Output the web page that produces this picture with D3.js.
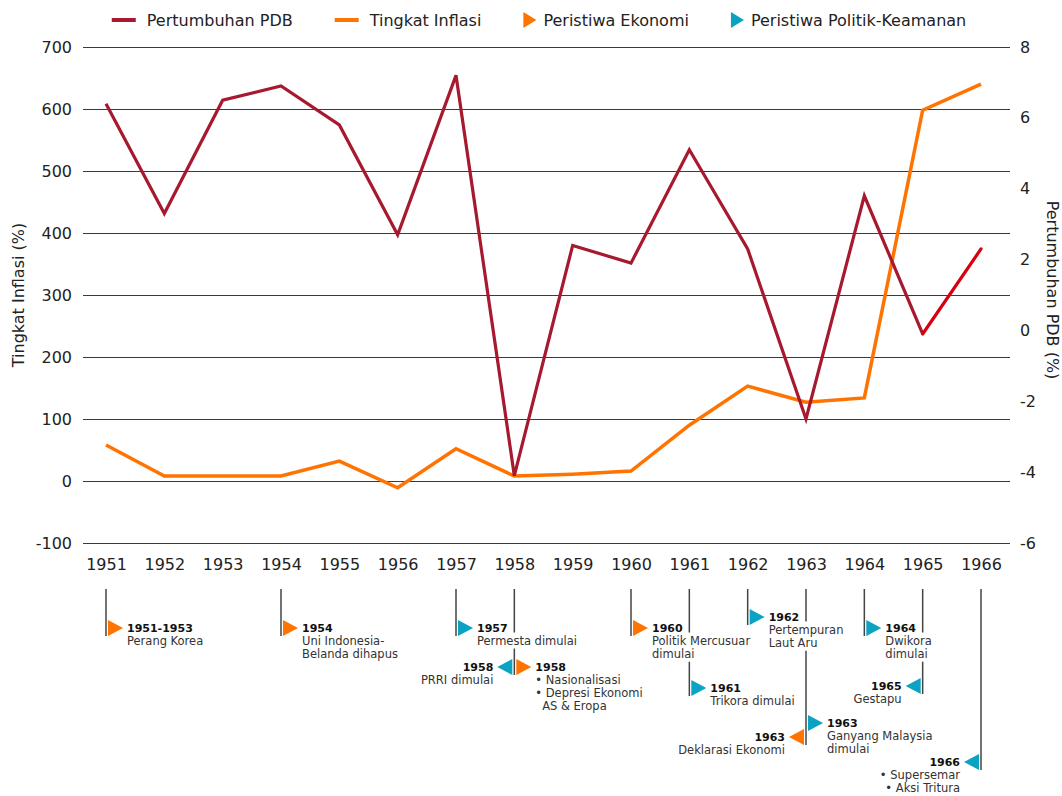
<!DOCTYPE html>
<html><head><meta charset="utf-8">
<script src="https://cdn.jsdelivr.net/npm/d3@7"></script>
<style>
body{margin:0;background:#fff}
text{font-family:'DejaVu Sans',sans-serif}
</style>
</head><body>
<svg id="c" width="1062" height="796"></svg>
<script>
// ---------------- DATA ----------------
const years = [1951,1952,1953,1954,1955,1956,1957,1958,1959,1960,1961,1962,1963,1964,1965,1966];
const gdpGrowth = [6.4,3.3,6.5,6.9,5.8,2.7,7.2,-4.1,2.4,1.9,5.1,2.3,-2.5,3.8,-0.1,2.3];
const inflation = [58,8,8,8,32,-11,52,8,11,16,90,153,127,134,598,640];
const leftTicks = [-100,0,100,200,300,400,500,600,700];
const rightTicks = [-6,-4,-2,0,2,4,6,8];
const legendLabels = ["Pertumbuhan PDB","Tingkat Inflasi","Peristiwa Ekonomi","Peristiwa Politik-Keamanan"];
const leftTitle = "Tingkat Inflasi (%)";
const rightTitle = "Pertumbuhan PDB (%)";

const eventYears  = [1951,1954,1957,1958,1958,1960,1961,1962,1963,1963,1964,1965,1966];
const eventKinds  = ["eko","eko","pol","pol","eko","eko","pol","pol","pol","eko","pol","pol","pol"];
const eventTitles = ["1951-1953","1954","1957","1958","1958","1960","1961","1962","1963","1963","1964","1965","1966"];
const eventTexts  = [
  ["Perang Korea"],
  ["Uni Indonesia-","Belanda dihapus"],
  ["Permesta dimulai"],
  ["PRRI dimulai"],
  ["• Nasionalisasi","• Depresi Ekonomi","\tAS & Eropa"],
  ["Politik Mercusuar","dimulai"],
  ["Trikora dimulai"],
  ["Pertempuran","Laut Aru"],
  ["Ganyang Malaysia","dimulai"],
  ["Deklarasi Ekonomi"],
  ["Dwikora","dimulai"],
  ["Gestapu"],
  ["• Supersemar","• Aksi Tritura"]
];

// ---------------- LAYOUT / STYLE ----------------
const W = 1062, H = 796;
const C = {gdp:"#a6192e", gdpLast:"#d8000f", inf:"#ff7300", eko:"#ff7300", pol:"#0ba3c1", grid:"#3a3a3a", text:"#222"};
const eventDir = ["r","r","r","l","r","r","r","r","r","l","r","l","l"];
const eventY   = [628,628,628,667,667,628,688,617,723,737,628,686,762];
const lineTop = 589, lineH = 13.2, firstOff = 12.5;
const FONT = "'DejaVu Sans',sans-serif";

const svg = d3.select("#c");
const x = d3.scalePoint().domain(years).range([106,981]);
const yL = d3.scaleLinear().domain([-100,700]).range([543,47]);
const yR = d3.scaleLinear().domain([-6,8]).range([543,47]);
const gx0 = 83, gx1 = 1010;

// gridlines
svg.append("g").selectAll("line").data(leftTicks).join("line")
  .attr("x1",gx0).attr("x2",gx1)
  .attr("y1",d=>Math.round(yL(d))+0.5).attr("y2",d=>Math.round(yL(d))+0.5)
  .attr("stroke",C.grid).attr("stroke-width",1);

// left axis
const axL = svg.append("g").attr("transform",`translate(${gx0},0)`)
  .call(d3.axisLeft(yL).tickValues(leftTicks).tickSize(0).tickPadding(11).tickFormat(d=>String(d)));
axL.select(".domain").remove();
axL.selectAll("text").attr("font-size",16).attr("fill",C.text).style("font-family",FONT);

// right axis
const axR = svg.append("g").attr("transform",`translate(${gx1},0)`)
  .call(d3.axisRight(yR).tickValues(rightTicks).tickSize(0).tickPadding(10).tickFormat(d=>String(d)));
axR.select(".domain").remove();
axR.selectAll("text").attr("font-size",16).attr("fill",C.text).style("font-family",FONT);

// bottom axis
const axB = svg.append("g").attr("transform",`translate(0,555)`)
  .call(d3.axisBottom(x).tickSize(0).tickPadding(4).tickFormat(d=>String(d)));
axB.select(".domain").remove();
axB.selectAll("text").attr("font-size",16).attr("fill",C.text).style("font-family",FONT);

// axis titles
svg.append("text").attr("transform",`translate(24,${295}) rotate(-90)`)
  .attr("text-anchor","middle").attr("font-size",16).attr("fill",C.text).text(leftTitle);
svg.append("text").attr("transform",`translate(1047,${290}) rotate(90)`)
  .attr("text-anchor","middle").attr("font-size",16).attr("fill",C.text).text(rightTitle);

// lines
const infLine = d3.line().x((d,i)=>x(years[i])).y(d=>yL(d));
const gdpLine = d3.line().x(d=>x(d[0])).y(d=>yR(d[1]));
const gdpPts = years.map((yr,i)=>[yr,gdpGrowth[i]]);
svg.append("path").attr("d",infLine(inflation)).attr("fill","none")
  .attr("stroke",C.inf).attr("stroke-width",3.5).attr("stroke-linejoin","miter");
svg.append("path").attr("d",gdpLine(gdpPts.slice(0,-1))).attr("fill","none")
  .attr("stroke",C.gdp).attr("stroke-width",3.2).attr("stroke-linejoin","miter");
svg.append("path").attr("d",gdpLine(gdpPts.slice(-2))).attr("fill","none")
  .attr("stroke",C.gdpLast).attr("stroke-width",3.2).attr("stroke-linecap","round");

// legend
const lg = svg.append("g");
let lx = 0;
const legendKinds = ["line","line","tri","tri"];
const legendColors = [C.gdp,C.inf,C.eko,C.pol];
const lgGap = 42;
legendLabels.forEach((lab,i)=>{
  const g = lg.append("g").attr("transform",`translate(${lx},0)`);
  let tx;
  if(legendKinds[i]==="line"){
    g.append("line").attr("x1",0).attr("x2",24).attr("y1",20).attr("y2",20)
      .attr("stroke",legendColors[i]).attr("stroke-width",4);
    tx = 35;
  } else {
    g.append("path").attr("d","M0,12 L13,20 L0,28 Z").attr("fill",legendColors[i]);
    tx = 20;
  }
  const t = g.append("text").attr("x",tx).attr("y",20).attr("dy","0.35em")
    .attr("font-size",16).attr("fill",C.text).text(lab);
  lx += tx + t.node().getComputedTextLength() + lgGap;
});
lx -= lgGap;
lg.attr("transform",`translate(${539 - lx/2},0)`);

// events
const evG = svg.append("g");
const textBoxes = [];
eventYears.forEach((yr,i)=>{
  const px = x(yr), cy = eventY[i];
  const right = eventDir[i]==="r";
  const col = eventKinds[i]==="eko" ? C.eko : C.pol;
  const g = evG.append("g");
  const tri = right
    ? `M${px+2},${cy-8} L${px+17},${cy} L${px+2},${cy+8} Z`
    : `M${px-2},${cy-8} L${px-17},${cy} L${px-2},${cy+8} Z`;
  g.append("path").attr("d",tri).attr("fill",col);
  const tX = right ? px+21 : px-21;
  const anchor = right ? "start" : "end";
  const title = g.append("text").attr("x",tX).attr("y",cy).attr("dy","0.35em")
    .attr("text-anchor",anchor).attr("font-size",11).attr("font-weight","bold")
    .attr("fill","#111").text(eventTitles[i]);
  textBoxes.push({year:yr, b:title.node().getBBox()});
  const bulletW = (()=>{const t=g.append("text").attr("font-size",11.5).text("• ");const w=t.node().getComputedTextLength();t.remove();return w;})();
  eventTexts[i].forEach((ln,j)=>{
    const indent = ln.startsWith("\t");
    const s = indent ? ln.slice(1) : ln;
    const t = g.append("text").attr("x",tX + (indent && right ? bulletW : 0))
      .attr("y",cy + firstOff + j*lineH).attr("dy","0.35em")
      .attr("text-anchor",anchor).attr("font-size",11.5).attr("fill","#333").text(s);
    textBoxes.push({year:yr, b:t.node().getBBox()});
  });
});

// connectors, broken where other events' text crosses them
const connYears = Array.from(new Set(eventYears));
connYears.forEach(yr=>{
  const px = x(yr);
  const bottom = d3.max(eventYears.map((e,i)=>e===yr?eventY[i]+8:-Infinity));
  const blocks = textBoxes.filter(t=>t.year!==yr && t.b.x-2 < px && t.b.x+t.b.width+2 > px)
    .map(t=>[t.b.y-1, t.b.y+t.b.height+1]).sort((a,b)=>a[0]-b[0]);
  let segs = [[lineTop,bottom]];
  blocks.forEach(([b0,b1])=>{
    const out=[];
    segs.forEach(([s0,s1])=>{
      if(b1<=s0||b0>=s1){out.push([s0,s1]);return;}
      if(b0>s0) out.push([s0,b0]);
      if(b1<s1) out.push([b1,s1]);
    });
    segs=out;
  });
  evG.selectAll(null).data(segs).join("line")
    .attr("x1",px).attr("x2",px).attr("y1",d=>d[0]).attr("y2",d=>d[1])
    .attr("stroke","#444").attr("stroke-width",1.5);
});
</script>
</body></html>
